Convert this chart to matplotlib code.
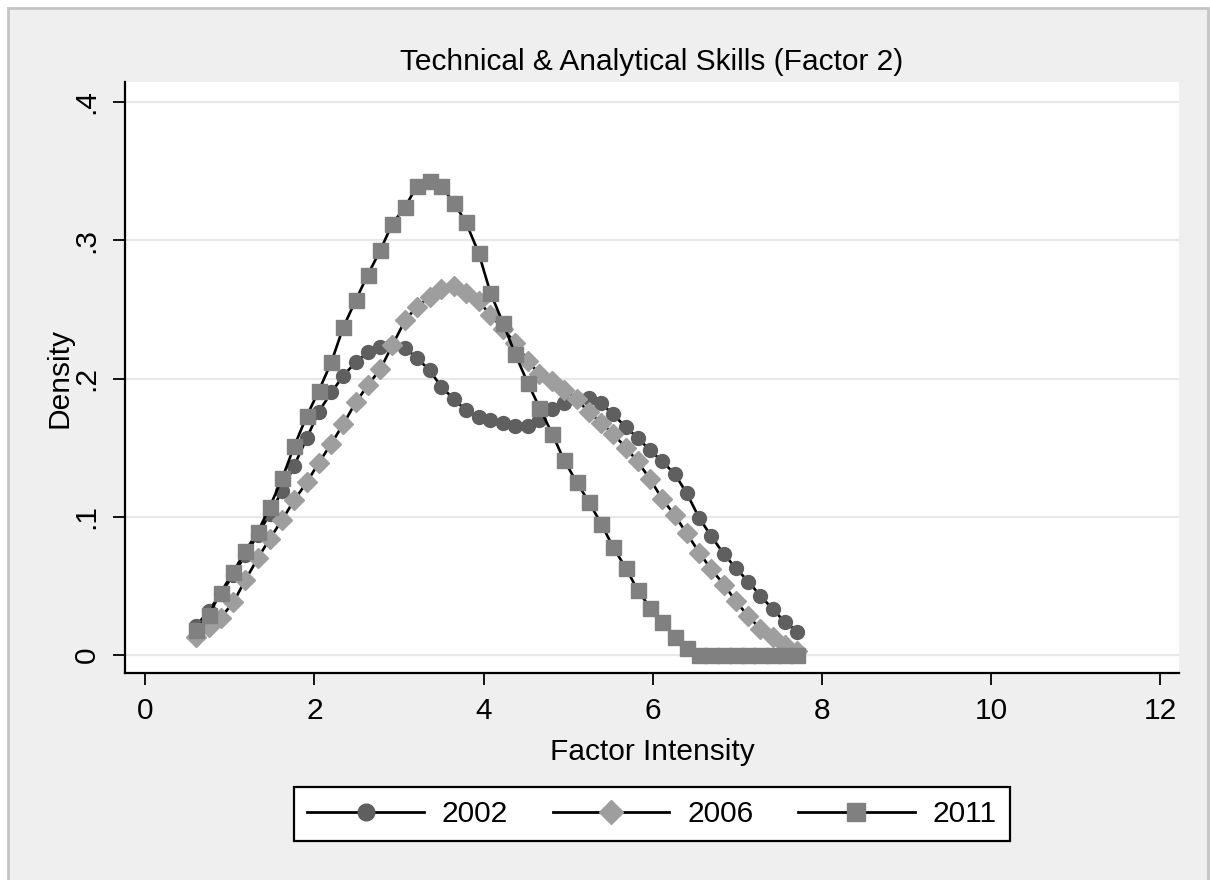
import matplotlib.pyplot as plt
from matplotlib.patches import Rectangle

plt.rcParams['font.family'] = ['Liberation Sans', 'DejaVu Sans']

# kdensity evaluation points
intensity = [0.60, 0.75, 0.89, 1.04, 1.18, 1.33, 1.47, 1.62, 1.76, 1.91,
             2.05, 2.20, 2.34, 2.49, 2.63, 2.78, 2.92, 3.07, 3.21, 3.36,
             3.50, 3.65, 3.79, 3.94, 4.08, 4.23, 4.37, 4.52, 4.66, 4.81,
             4.95, 5.10, 5.24, 5.39, 5.53, 5.68, 5.82, 5.97, 6.11, 6.26,
             6.40, 6.55, 6.69, 6.84, 6.98, 7.13, 7.27, 7.42, 7.56, 7.71]

dens_2002 = [0.021, 0.032, 0.044, 0.058, 0.072, 0.087, 0.102, 0.119, 0.137, 0.157,
             0.176, 0.190, 0.202, 0.212, 0.219, 0.223, 0.224, 0.222, 0.215, 0.206,
             0.194, 0.185, 0.177, 0.172, 0.170, 0.168, 0.166, 0.166, 0.170, 0.178,
             0.182, 0.185, 0.186, 0.182, 0.174, 0.165, 0.157, 0.148, 0.140, 0.131,
             0.117, 0.099, 0.086, 0.073, 0.063, 0.053, 0.043, 0.033, 0.024, 0.017]

dens_2006 = [0.013, 0.020, 0.027, 0.038, 0.054, 0.070, 0.084, 0.098, 0.112, 0.125,
             0.139, 0.153, 0.167, 0.183, 0.195, 0.207, 0.224, 0.242, 0.252, 0.259,
             0.265, 0.267, 0.262, 0.256, 0.246, 0.236, 0.226, 0.213, 0.203, 0.198,
             0.192, 0.185, 0.176, 0.168, 0.160, 0.150, 0.140, 0.127, 0.113, 0.101,
             0.088, 0.074, 0.062, 0.051, 0.039, 0.028, 0.019, 0.013, 0.007, 0.003]

dens_2011 = [0.018, 0.029, 0.045, 0.060, 0.075, 0.089, 0.107, 0.128, 0.151, 0.173,
             0.191, 0.212, 0.237, 0.257, 0.275, 0.293, 0.312, 0.324, 0.339, 0.343,
             0.339, 0.327, 0.313, 0.291, 0.262, 0.240, 0.218, 0.197, 0.179, 0.160,
             0.141, 0.125, 0.111, 0.095, 0.078, 0.063, 0.047, 0.034, 0.024, 0.013,
             0.005, 0.0, 0.0, 0.0, 0.0, 0.0, 0.0, 0.0, 0.0, 0.0]

x_ticks = [0, 2, 4, 6, 8, 10, 12]
y_ticks = [0, 0.1, 0.2, 0.3, 0.4]
y_ticklabels = ['0', '.1', '.2', '.3', '.4']

fs = 21.5

fig = plt.figure(figsize=(12.1, 8.8), dpi=100, facecolor='white')
# stata style outer panel, behind the axes
fig.patches.append(Rectangle((8 / 1210, -0.01), 1200 / 1210, 1 - 8 / 880 + 0.01,
                             transform=fig.transFigure, facecolor='#efefef',
                             edgecolor='#c4c4c4', linewidth=2, zorder=-10))

ax = fig.add_axes([125 / 1210, 1 - 673 / 880, 1054 / 1210, 591 / 880])
ax.set_facecolor('white')

ax.plot(intensity, dens_2002, color='black', lw=1.9, marker='o', ms=10,
        mfc='#5f5f5f', mec='#5f5f5f', label='2002', zorder=3)
ax.plot(intensity, dens_2006, color='black', lw=1.9, marker='D', ms=10.5,
        mfc='#9e9e9e', mec='#9e9e9e', label='2006', zorder=4)
ax.plot(intensity, dens_2011, color='black', lw=1.9, marker='s', ms=10.8,
        mfc='#808080', mec='#808080', label='2011', zorder=5)

ax.set_xlim(-0.24, 12.22)
ax.set_ylim(-0.013, 0.4145)
ax.set_xticks(x_ticks)
ax.set_yticks(y_ticks)
ax.set_yticklabels(y_ticklabels, rotation=90, va='center')
ax.yaxis.grid(True, color='#e8e8e8', lw=1.6)
ax.set_axisbelow(True)

for s in ['top', 'right']:
    ax.spines[s].set_visible(False)
for s in ['left', 'bottom']:
    ax.spines[s].set_linewidth(1.6)
ax.tick_params(axis='both', direction='out', length=8.5, width=1.3,
               labelsize=fs, color='black')
ax.tick_params(axis='x', pad=9)
ax.tick_params(axis='y', pad=9)

ax.set_xlabel('Factor Intensity', fontsize=fs, va='center')
ax.xaxis.set_label_coords(0.5, -(752 - 673) / 591)
ax.set_ylabel('Density', fontsize=fs, va='center')
ax.yaxis.set_label_coords(-(125 - 60) / 1054, 0.5)

fig.text(652 / 1210, 1 - 62 / 880, 'Technical & Analytical Skills (Factor 2)',
         fontsize=fs, ha='center', va='center')

leg = fig.legend(loc='center', bbox_to_anchor=(652 / 1210, 1 - 814 / 880),
                 ncol=3, fontsize=fs, numpoints=1, handlelength=3.9,
                 handletextpad=0.6, columnspacing=1.5, fancybox=False,
                 edgecolor='black', framealpha=1, borderpad=0.45, markerscale=1.2)
leg.get_frame().set_linewidth(1.6)
for h in leg.get_lines():
    h.set_linewidth(2)

fig.savefig('out.png', dpi=100, facecolor=fig.get_facecolor())
